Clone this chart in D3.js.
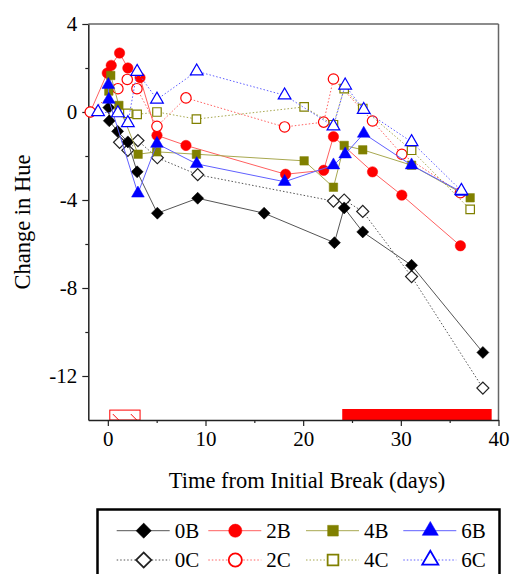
<!DOCTYPE html>
<html><head><meta charset="utf-8">
<script src="https://cdn.jsdelivr.net/npm/d3@7"></script>
<style>body{margin:0;background:#fff}svg{display:block}svg text{font-family:"Liberation Serif","Times New Roman",serif !important}</style>
</head><body><svg id="c" width="511" height="574"></svg>
<script>
// ---- data ----
const seriesNames = ["0C","0B","2B","2C","4B","4C","6B","6C"];
const day0B = [0.1, 0.15, 1.0, 2.05, 3.0, 5.07, 9.2, 16.0, 23.2, 24.2, 26.1, 31.1, 38.4];
const val0B = [0.2, -0.4, -0.88, -1.36, -2.72, -4.6, -3.92, -4.6, -5.94, -4.36, -5.45, -6.97, -10.93];
const day0C = [1.2, 2.05, 3.08, 5.07, 9.2, 23.1, 24.2, 26.1, 31.1, 38.4];
const val0C = [-1.38, -1.74, -1.3, -2.08, -2.85, -4.05, -4.0, -4.52, -7.48, -12.55];
const day2B = [-1.8, -0.06, 0.35, 1.2, 2.05, 3.3, 5.03, 8.0, 18.2, 22.1, 23.1, 27.1, 30.1, 36.1];
const val2B = [0, 1.77, 2.12, 2.68, 2.0, 1.56, -1.06, -1.52, -2.83, -2.65, -1.12, -2.72, -3.78, -6.08];
const day2C = [-1.8, 1.03, 1.99, 2.98, 5.03, 8.0, 18.1, 22.1, 23.1, 27.1, 30.1, 36.1];
const val2C = [0, 1.06, 1.48, 1.06, -0.65, 0.64, -0.68, -0.46, 1.5, -0.41, -1.92, -3.67];
const day4B = [0.1, 0.3, 1.13, 3.1, 5.0, 9.07, 20.1, 23.1, 24.2, 26.1, 31.1, 37.1];
const val4B = [0.95, 1.66, 0.3, -1.92, -1.81, -1.92, -2.22, -3.42, -1.52, -1.72, -2.42, -3.9];
const day4C = [2.05, 3.0, 5.03, 9.07, 20.1, 23.1, 24.2, 26.1, 31.1, 37.1];
const val4C = [-0.06, -0.11, 0.0, -0.32, 0.23, -0.58, 1.06, 0.16, -1.74, -4.43];
const day6B = [0.05, 0.1, 3.08, 5.03, 9.1, 18.1, 23.1, 24.3, 26.2, 31.1, 36.2];
const val6B = [1.24, 0.56, -3.7, -1.44, -2.36, -3.17, -2.42, -1.92, -0.98, -2.42, -3.63];
const day6C = [-1.0, 1.03, 2.05, 3.0, 5.03, 9.1, 18.1, 23.1, 24.3, 26.2, 31.1, 36.2];
const val6C = [0, -0.05, -0.5, 1.83, 0.57, 1.85, 0.76, -0.65, 1.21, 0.1, -1.36, -3.58];
const xTicks = [0, 10, 20, 30, 40];
const xMinor = [5, 15, 25, 35];
const yTicks = [4, 0, -4, -8, -12];
const yTickLabels = ["4", "0", "-4", "-8", "-12"];
const yMinor = [2, -2, -6, -10];
const treatmentHatched = [0.2, 3.3];
const treatmentSolid = [24.0, 39.3];
const legendRow1 = ["0B","2B","4B","6B"];
const legendRow2 = ["0C","2C","4C","6C"];

const dataMap = {
  "0B":[day0B,val0B],"0C":[day0C,val0C],"2B":[day2B,val2B],"2C":[day2C,val2C],
  "4B":[day4B,val4B],"4C":[day4C,val4C],"6B":[day6B,val6B],"6C":[day6C,val6C]
};
const style = {
  "0B":{c:"#000",line:"#555",shape:"diamond",fill:true},
  "0C":{c:"#222",line:"#555",shape:"diamond",fill:false},
  "2B":{c:"#ff0000",line:"#ff6060",shape:"circle",fill:true},
  "2C":{c:"#ff0000",line:"#ff6060",shape:"circle",fill:false},
  "4B":{c:"#808000",line:"#a8a850",shape:"square",fill:true},
  "4C":{c:"#808000",line:"#a8a850",shape:"square",fill:false},
  "6B":{c:"#0000ff",line:"#6060ff",shape:"triangle",fill:true},
  "6C":{c:"#0000ff",line:"#6060ff",shape:"triangle",fill:false}
};
const symType = {diamond:d3.symbolSquare, circle:d3.symbolCircle, square:d3.symbolSquare, triangle:d3.symbolTriangle};
const symSize = {diamond:72, circle:85, square:72, triangle:70};
const symRot = {diamond:45, circle:0, square:0, triangle:0};

const svg = d3.select("#c");
const L=88.3, R=498.5, T=24, B=420;
const x = d3.scaleLinear().domain([-2,40]).range([L,R]);
const y = d3.scaleLinear().domain([-14,4]).range([B,T]);
const font = "Liberation Serif";

// hatch pattern
const defs = svg.append("defs");
const pat = defs.append("pattern").attr("id","hatch").attr("patternUnits","userSpaceOnUse")
  .attr("width",18).attr("height",10).attr("x",x(treatmentHatched[0])).attr("y",y(-13.55));
pat.append("rect").attr("width",18).attr("height",10).attr("fill","#fff");
pat.append("line").attr("x1",3).attr("y1",4).attr("x2",9).attr("y2",10).attr("stroke","#ff0000").attr("stroke-width",1);

// frame top/right
svg.append("line").attr("x1",L).attr("x2",R).attr("y1",T).attr("y2",T).attr("stroke","#666").attr("stroke-width",1.5);
svg.append("line").attr("x1",R).attr("x2",R).attr("y1",T).attr("y2",B).attr("stroke","#666").attr("stroke-width",1.5);

// treatment bars
svg.append("rect").attr("x",x(treatmentHatched[0])).attr("y",y(-13.55))
  .attr("width",x(treatmentHatched[1])-x(treatmentHatched[0])).attr("height",y(-14)-y(-13.55))
  .attr("fill","url(#hatch)").attr("stroke","#ff0000").attr("stroke-width",1);
svg.append("rect").attr("x",x(treatmentSolid[0])).attr("y",y(-13.5))
  .attr("width",x(treatmentSolid[1])-x(treatmentSolid[0])).attr("height",y(-14)-y(-13.5))
  .attr("fill","#ff0000");

// axes
svg.append("g").attr("transform",`translate(0,${B})`)
  .call(d3.axisBottom(x).tickValues(xTicks).tickSize(6).tickSizeOuter(0).tickPadding(5).tickFormat(d3.format("d")));
svg.append("g").attr("transform",`translate(0,${B})`)
  .call(d3.axisBottom(x).tickValues(xMinor).tickSize(3).tickSizeOuter(0).tickFormat(""))
  .select(".domain").remove();
svg.append("g").attr("transform",`translate(${L},0)`)
  .call(d3.axisLeft(y).tickValues(yTicks).tickSize(6).tickSizeOuter(0).tickPadding(5)
    .tickFormat((d,i)=>yTickLabels[i]));
svg.append("g").attr("transform",`translate(${L},0)`)
  .call(d3.axisLeft(y).tickValues(yMinor).tickSize(3).tickSizeOuter(0).tickFormat(""))
  .select(".domain").remove();
svg.selectAll(".domain").attr("stroke","#222").attr("stroke-width",1.5);
svg.selectAll(".tick line").attr("stroke","#222").attr("stroke-width",1.2);
svg.selectAll("g").attr("font-family",font);
svg.selectAll(".tick text").attr("font-family",font).attr("font-size",21).attr("fill","#000");

// titles
svg.append("text").attr("x",307).attr("y",488).attr("text-anchor","middle")
  .attr("font-family",font).attr("font-size",22.5).text("Time from Initial Break (days)");
svg.append("text").attr("transform",`translate(30,222) rotate(-90)`).attr("text-anchor","middle")
  .attr("font-family",font).attr("font-size",22.5).text("Change in Hue");

// series
const line = d3.line().x(d=>x(d[0])).y(d=>y(d[1]));
seriesNames.forEach(name=>{
  const [ds,vs] = dataMap[name];
  const pts = ds.map((d,i)=>[d,vs[i]]);
  const st = style[name];
  const g = svg.append("g");
  g.append("path").datum(pts).attr("d",line).attr("fill","none")
    .attr("stroke",st.line).attr("stroke-width",1)
    .attr("stroke-dasharray", st.fill? null : "1.5,2");
  g.selectAll("path.m").data(pts).join("path").attr("class","m")
    .attr("transform",d=>`translate(${x(d[0])},${y(d[1])}) rotate(${symRot[st.shape]})`)
    .attr("d",d3.symbol().type(symType[st.shape]).size(symSize[st.shape]))
    .attr("fill",st.fill?st.c:"#fff").attr("stroke",st.c).attr("stroke-width",st.fill?0.5:1.2);
});

// legend
svg.append("rect").attr("x",97.5).attr("y",509.5).attr("width",402).attr("height",80)
  .attr("fill","#fff").attr("stroke","#000").attr("stroke-width",2.5);
const colX = [116.7, 208.3, 306, 403.3];
[legendRow1, legendRow2].forEach((row,ri)=>{
  const yy = ri===0?530.7:560;
  row.forEach((name,ci)=>{
    const st = style[name];
    const x0 = colX[ci];
    svg.append("line").attr("x1",x0).attr("x2",x0+53).attr("y1",yy).attr("y2",yy)
      .attr("stroke",st.line).attr("stroke-width",1).attr("stroke-dasharray",st.fill?null:"1.5,2");
    svg.append("path").attr("transform",`translate(${x0+27},${yy}) rotate(${symRot[st.shape]})`)
      .attr("d",d3.symbol().type(symType[st.shape]).size(symSize[st.shape]*1.6))
      .attr("fill",st.fill?st.c:"#fff").attr("stroke",st.c).attr("stroke-width",st.fill?0.5:1.8);
    svg.append("text").attr("x",x0+58).attr("y",yy).attr("dy","0.35em")
      .attr("font-family",font).attr("font-size",21).text(name);
  });
});
</script></body></html>
